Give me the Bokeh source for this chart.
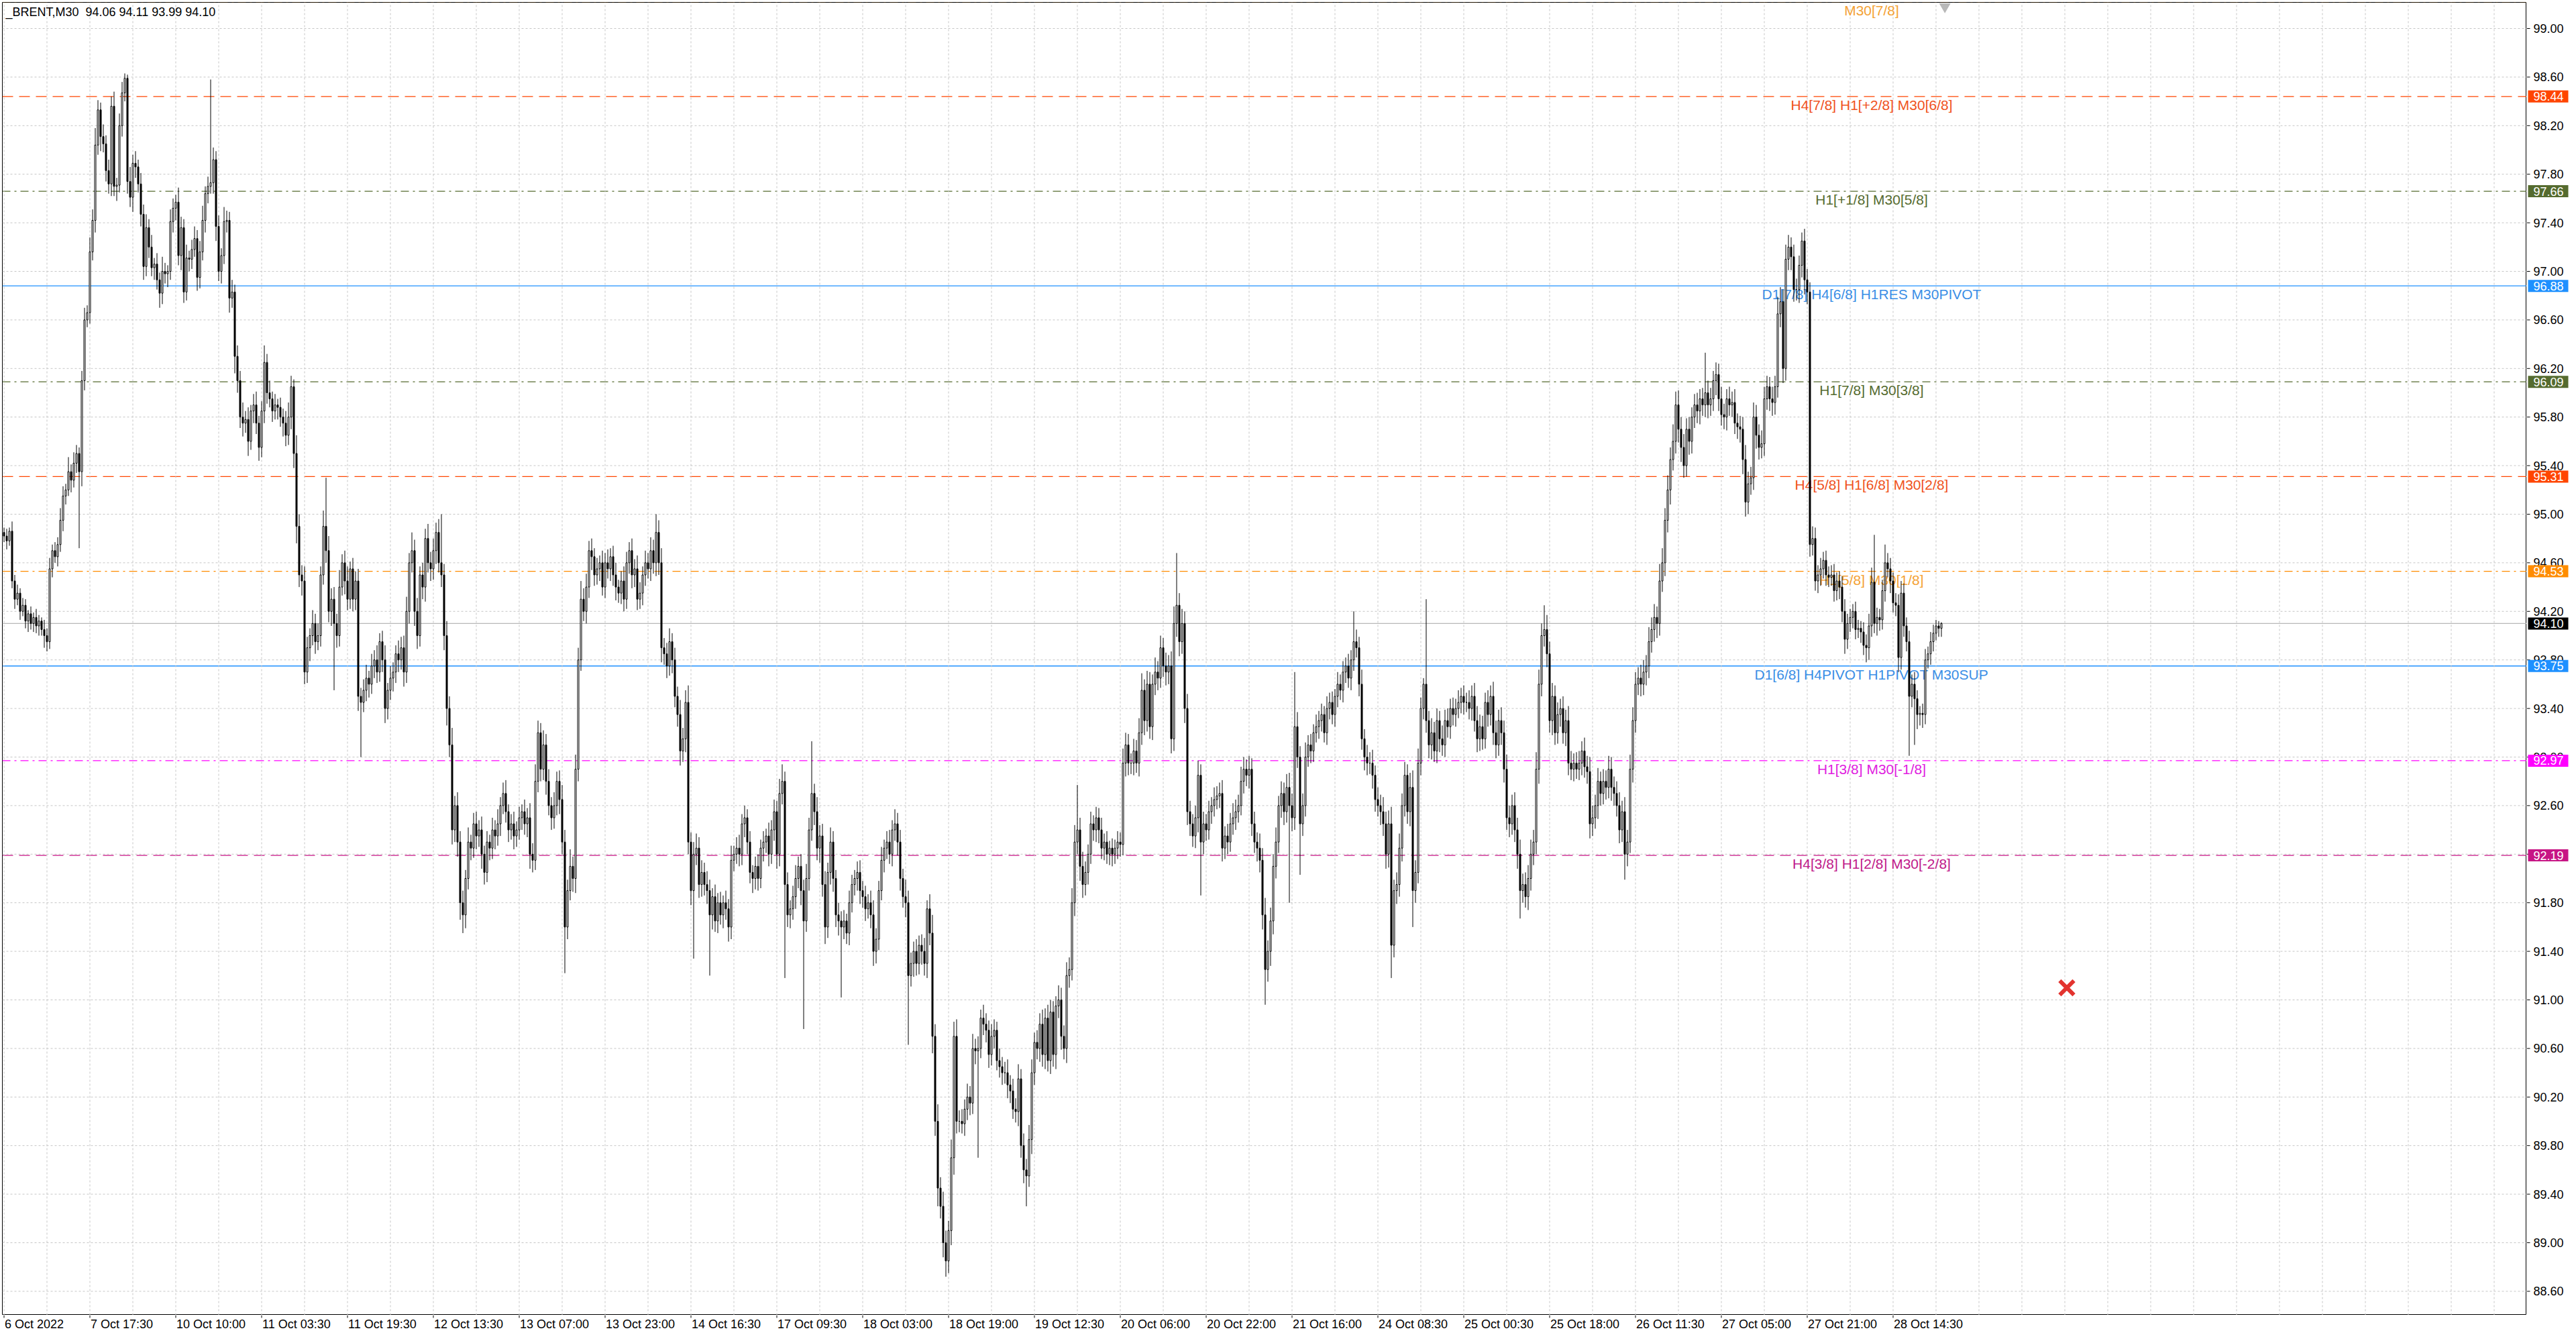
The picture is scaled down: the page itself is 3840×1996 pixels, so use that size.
from bokeh.plotting import figure
from bokeh.layouts import row, column
from bokeh.models import ColumnDataSource, Range1d, Span
from bokeh.embed import file_html
from bokeh.resources import INLINE
from bokeh.core.properties import value

# ---------------- data ----------------
chart_title = "_BRENT,M30\u00a0\u00a094.06 94.11 93.99 94.10"
first_open = 94.85

closes = [
    94.82, 94.78, 94.86, 94.45, 94.30, 94.35, 94.20, 94.25, 94.12, 94.18,  # 0
    94.10, 94.15, 94.08, 94.12, 94.05, 94.00, 93.95, 94.55, 94.70, 94.65,  # 10
    94.75, 94.95, 95.15, 95.20, 95.35, 95.28, 95.42, 95.50, 95.35, 96.10,  # 20
    96.60, 96.66, 97.16, 97.42, 98.04, 98.33, 98.11, 98.05, 97.83, 97.72,  # 30
    98.36, 97.70, 97.71, 98.20, 98.47, 98.59, 97.74, 97.61, 97.89, 97.86,  # 40
    97.72, 97.47, 97.04, 97.36, 97.20, 97.03, 97.06, 96.93, 96.82, 97.00,  # 50
    96.98, 97.00, 97.41, 97.52, 97.57, 97.13, 97.36, 96.83, 97.11, 97.10,  # 60
    97.18, 97.27, 96.95, 97.16, 97.42, 97.64, 97.70, 97.73, 97.92, 97.37,  # 70
    97.00, 97.13, 97.41, 97.42, 96.78, 96.83, 96.30, 96.10, 95.80, 95.75,  # 80
    95.78, 95.60, 95.85, 95.90, 95.75, 95.55, 95.85, 96.25, 96.00, 95.95,  # 90
    95.85, 95.90, 95.88, 95.80, 95.75, 95.65, 95.80, 96.05, 95.50, 94.90,  # 100
    94.50, 94.45, 93.70, 93.90, 94.00, 94.10, 93.95, 94.00, 94.50, 94.90,  # 110
    94.70, 94.20, 94.30, 94.10, 94.00, 94.40, 94.60, 94.45, 94.30, 94.55,  # 120
    94.30, 94.45, 93.50, 93.45, 93.55, 93.65, 93.60, 93.75, 93.80, 93.70,  # 130
    93.95, 93.80, 93.40, 93.55, 93.65, 93.70, 93.85, 93.80, 93.90, 93.70,  # 140
    94.20, 94.60, 94.70, 94.20, 94.00, 94.50, 94.40, 94.80, 94.60, 94.55,  # 150
    94.70, 94.85, 94.60, 94.50, 94.00, 93.40, 93.10, 92.40, 92.60, 92.30,  # 160
    91.80, 91.70, 92.00, 92.30, 92.25, 92.45, 92.35, 92.40, 92.20, 92.05,  # 170
    92.30, 92.25, 92.40, 92.35, 92.45, 92.60, 92.70, 92.55, 92.40, 92.45,  # 180
    92.35, 92.40, 92.50, 92.55, 92.45, 92.50, 92.20, 92.15, 92.80, 93.20,  # 190
    92.90, 93.10, 92.80, 92.60, 92.50, 92.60, 92.80, 92.65, 92.30, 91.60,  # 200
    91.90, 92.10, 92.00, 92.90, 93.80, 94.30, 94.20, 94.40, 94.70, 94.65,  # 210
    94.50, 94.55, 94.60, 94.40, 94.60, 94.55, 94.65, 94.50, 94.40, 94.35,  # 220
    94.45, 94.30, 94.60, 94.70, 94.50, 94.55, 94.30, 94.35, 94.50, 94.60,  # 230
    94.55, 94.70, 94.60, 94.85, 94.60, 93.90, 93.85, 93.75, 93.95, 93.80,  # 240
    93.50, 93.35, 93.05, 93.15, 93.45, 92.30, 91.90, 92.20, 92.25, 91.95,  # 250
    92.05, 91.95, 91.90, 91.70, 91.85, 91.65, 91.80, 91.70, 91.80, 91.75,  # 260
    91.60, 92.15, 92.20, 92.25, 92.20, 92.45, 92.50, 92.30, 92.05, 92.00,  # 270
    92.10, 92.00, 92.25, 92.30, 92.35, 92.20, 92.40, 92.55, 92.20, 92.70,  # 280
    92.80, 91.95, 91.70, 91.75, 91.85, 92.00, 92.10, 91.90, 91.65, 92.00,  # 290
    92.40, 92.70, 92.55, 92.25, 92.35, 91.95, 91.60, 92.05, 92.30, 92.00,  # 300
    91.70, 91.65, 91.60, 91.65, 91.55, 91.80, 91.95, 92.00, 92.05, 91.90,  # 310
    91.85, 91.75, 91.80, 91.70, 91.40, 91.50, 91.90, 92.15, 92.25, 92.30,  # 320
    92.20, 92.40, 92.45, 92.30, 92.00, 91.85, 91.80, 91.20, 91.30, 91.40,  # 330
    91.30, 91.45, 91.40, 91.30, 91.75, 91.55, 90.70, 90.00, 89.45, 89.30,  # 340
    89.00, 88.85, 89.10, 89.70, 90.70, 90.00, 90.00, 89.98, 90.10, 90.20,  # 350
    90.15, 90.60, 90.58, 90.60, 90.85, 90.80, 90.75, 90.55, 90.70, 90.75,  # 360
    90.50, 90.45, 90.40, 90.40, 90.30, 90.25, 90.10, 90.08, 90.35, 89.80,  # 370
    89.60, 89.55, 89.85, 90.40, 90.65, 90.60, 90.80, 90.55, 90.85, 90.50,  # 380
    90.90, 90.55, 90.95, 91.00, 90.70, 90.60, 91.20, 91.25, 91.80, 92.30,  # 390
    92.40, 92.10, 91.95, 92.05, 92.20, 92.45, 92.40, 92.50, 92.40, 92.25,  # 400
    92.30, 92.20, 92.25, 92.20, 92.25, 92.30, 92.28, 92.95, 93.10, 92.95,  # 410
    92.95, 93.05, 92.95, 93.20, 93.55, 93.30, 93.60, 93.25, 93.60, 93.70,  # 420
    93.65, 93.90, 93.75, 93.70, 93.75, 93.15, 94.10, 94.25, 93.95, 94.10,  # 430
    93.40, 92.55, 92.45, 92.35, 92.50, 92.85, 92.30, 92.45, 92.40, 92.55,  # 440
    92.60, 92.65, 92.68, 92.70, 92.25, 92.35, 92.30, 92.45, 92.50, 92.55,  # 450
    92.60, 92.80, 92.90, 92.85, 92.90, 92.45, 92.30, 92.25, 92.15, 91.70,  # 460
    91.25, 91.40, 91.65, 92.10, 92.30, 92.60, 92.70, 92.55, 92.75, 92.60,  # 470
    92.50, 93.25, 93.00, 92.45, 92.60, 93.00, 93.10, 93.05, 93.20, 93.25,  # 480
    93.30, 93.35, 93.20, 93.40, 93.45, 93.35, 93.50, 93.60, 93.55, 93.70,  # 490
    93.75, 93.65, 93.80, 93.95, 93.90, 93.60, 93.15, 93.00, 92.95, 92.95,  # 500
    92.85, 92.65, 92.60, 92.55, 92.45, 92.20, 92.45, 91.45, 91.90, 91.95,  # 510
    92.25, 92.60, 92.85, 92.55, 92.75, 91.90, 92.05, 92.95, 93.40, 93.60,  # 520
    93.30, 93.10, 93.20, 93.05, 93.30, 93.15, 93.10, 93.30, 93.25, 93.40,  # 530
    93.35, 93.40, 93.45, 93.50, 93.45, 93.45, 93.40, 93.50, 93.30, 93.15,  # 540
    93.25, 93.15, 93.45, 93.35, 93.50, 93.20, 93.10, 93.30, 93.20, 92.90,  # 550
    92.50, 92.45, 92.60, 92.40, 92.20, 91.90, 91.95, 91.85, 92.00, 92.20,  # 560
    92.30, 92.90, 93.60, 94.00, 94.05, 93.85, 93.30, 93.50, 93.20, 93.35,  # 570
    93.40, 93.20, 93.30, 92.95, 92.90, 92.95, 92.90, 92.95, 93.05, 92.92,  # 580
    92.88, 92.45, 92.50, 92.60, 92.80, 92.70, 92.80, 92.75, 92.90, 92.75,  # 590
    92.70, 92.60, 92.40, 92.55, 92.20, 92.30, 92.90, 93.30, 93.60, 93.65,  # 600
    93.60, 93.70, 93.75, 93.95, 94.05, 94.15, 94.10, 94.45, 94.60, 94.95,  # 610
    95.20, 95.45, 95.60, 95.90, 95.70, 95.55, 95.40, 95.70, 95.60, 95.80,  # 620
    95.90, 95.85, 95.95, 95.90, 96.00, 95.90, 95.95, 96.10, 96.15, 95.95,  # 630
    95.82, 95.80, 95.95, 95.90, 95.92, 95.75, 95.72, 95.70, 95.45, 95.10,  # 640
    95.25, 95.30, 95.80, 95.65, 95.55, 95.58, 95.95, 96.05, 95.95, 95.92,  # 650
    96.05, 96.65, 96.75, 96.20, 97.10, 97.20, 97.12, 96.85, 96.85, 97.05,  # 660
    97.25, 96.93, 96.83, 94.75, 94.80, 94.45, 94.50, 94.55, 94.62, 94.50,  # 670
    94.48, 94.50, 94.37, 94.45, 94.40, 94.20, 93.97, 94.10, 94.15, 94.20,  # 680
    94.05, 94.06, 94.03, 93.92, 93.90, 94.08, 94.44, 94.10, 94.15, 94.13,  # 690
    94.37, 94.60, 94.55, 94.45, 94.27, 94.25, 93.82, 94.35, 94.08, 93.95,  # 700
    93.50, 93.60, 93.48, 93.35, 93.36, 93.35, 93.80, 93.85, 93.95, 94.02,  # 710
    94.08, 94.06, 94.10,                                                    # 720
]

# wick lengths (cents) above max(open, close) and below min(open, close)
wick_up = [
    4,6,3,8,5,7,4,6,5,3,6,4,7,5,3,8,6,9,5,7,
    6,10,8,5,12,6,9,7,5,8,10,6,12,9,14,8,6,10,7,9,
    8,12,6,10,9,4,3,12,7,10,6,9,8,11,7,10,5,9,6,12,
    7,5,10,8,6,12,9,7,11,6,8,10,7,9,12,6,8,5,10,7,
    9,6,12,8,7,10,6,9,8,12,7,10,5,9,11,6,8,14,7,10,
    6,9,5,8,7,10,12,9,6,15,10,8,12,9,6,11,8,10,7,13,
    5,12,9,10,8,14,7,10,12,6,9,8,10,7,9,11,6,10,8,12,
    7,9,12,6,10,8,7,11,9,10,12,8,15,9,11,7,10,8,12,9,
    10,8,11,5,9,12,10,14,8,11,9,10,7,12,6,9,10,8,11,7,
    9,6,10,8,12,7,9,11,6,8,10,7,9,6,10,8,12,9,14,10,
    8,12,9,10,7,11,8,9,12,10,9,14,8,12,10,15,9,11,8,10,
    7,9,6,10,8,11,7,9,10,6,8,12,9,7,10,8,11,9,7,10,
    8,11,9,5,10,12,8,9,11,7,10,8,12,9,10,14,8,10,12,9,
    10,8,11,9,7,10,8,9,6,10,8,12,7,9,11,8,10,7,9,6,
    8,10,7,9,6,11,8,10,9,12,14,8,10,7,9,11,8,10,9,12,
    10,5,8,12,9,10,11,8,12,9,7,10,8,9,6,10,8,7,9,10,
    8,9,7,10,12,9,8,11,7,9,10,8,12,9,10,8,14,10,9,8,
    10,8,9,11,7,12,15,10,14,9,12,10,8,15,12,14,9,10,8,11,
    9,12,8,10,7,11,9,8,10,9,7,10,8,9,11,8,10,9,12,8,
    10,9,12,11,8,10,9,12,8,11,10,9,8,12,10,9,11,10,12,14,
    5,10,12,9,8,10,7,9,8,10,7,9,6,8,7,9,8,12,10,9,
    8,10,9,12,14,9,11,10,8,12,9,10,8,11,9,12,14,5,10,12,
    10,12,9,8,10,12,9,10,8,9,7,10,8,9,11,8,10,9,12,10,
    9,12,10,8,11,9,10,8,12,10,14,9,11,10,12,8,10,9,11,12,
    10,5,12,9,10,12,8,9,7,10,8,9,7,10,8,9,6,10,8,9,
    7,10,8,5,10,9,12,8,10,9,11,8,10,9,12,10,11,14,9,10,
    12,10,11,9,12,14,10,12,9,5,10,8,12,9,10,8,11,9,10,8,
    9,8,10,7,9,8,10,9,11,12,10,9,8,10,9,12,10,9,11,10,
    12,10,9,11,10,12,9,10,11,12,10,14,12,10,5,12,10,11,9,10,
    8,10,9,12,10,8,9,10,8,11,9,12,10,9,11,8,10,9,11,10,
    9,10,11,9,12,10,12,11,10,9,11,10,9,12,10,11,9,14,12,10,
    12,10,14,11,12,10,11,9,10,8,9,10,8,9,5,10,9,8,10,9,
    10,9,8,10,9,11,8,9,10,12,10,9,12,10,9,11,10,9,8,10,
    9,14,12,10,10,10,8,10,9,8,7,10,9,8,10,9,8,9,7,8,
    7,8,9,7,8,9,10,8,7,6,8,7,6,8,9,10,12,5,8,7,
    9,15,8,9,7,8,9,10,8,7,9,8,10,7,6,8,9,6,8,7,
    5,4,1,
]
wick_lo = [
    5,7,4,6,8,5,7,4,6,9,5,7,6,8,5,10,8,6,7,5,
    8,6,9,7,5,10,6,8,7,12,8,6,9,7,10,8,12,7,9,8,
    10,8,12,6,9,7,10,8,12,9,7,10,11,8,9,7,10,8,12,9,
    8,11,7,9,10,8,12,9,7,10,8,6,11,9,7,10,8,6,9,12,
    8,10,7,9,12,8,14,10,9,11,8,12,7,10,9,11,8,10,9,7,
    9,7,10,8,11,9,8,10,12,14,10,12,10,9,11,8,10,7,9,8,
    10,9,12,8,10,9,7,11,9,8,10,9,12,10,8,9,11,8,10,9,
    8,10,12,9,8,11,9,10,8,12,9,10,8,12,11,9,10,12,8,10,
    9,11,8,10,12,14,10,12,10,12,14,10,11,9,10,8,11,9,12,10,
    8,10,9,11,8,10,7,9,10,8,11,9,8,10,9,11,12,10,8,9,
    10,9,11,8,10,9,8,12,10,12,10,8,11,12,10,9,8,10,9,11,
    9,8,10,7,9,8,10,9,11,8,9,10,8,9,11,10,9,8,10,9,
    8,10,9,11,10,12,9,10,8,11,9,10,12,9,11,10,12,10,9,11,
    10,9,11,10,12,9,10,8,11,9,12,10,9,8,10,9,11,10,9,12,
    9,10,8,11,9,10,8,9,12,10,9,12,10,11,9,10,8,12,10,9,
    10,9,11,10,12,10,14,9,10,11,10,12,11,10,9,10,8,9,10,11,
    9,10,8,11,12,10,9,8,10,9,8,10,9,11,10,9,12,10,9,11,
    10,9,11,10,12,10,14,12,15,10,12,9,10,12,14,10,9,8,10,9,
    10,9,11,10,8,9,10,11,9,10,8,9,10,9,11,10,8,9,12,10,
    11,10,9,12,10,9,11,10,12,9,11,10,12,10,11,9,12,10,9,11,
    10,12,11,9,10,8,9,10,11,9,10,8,9,10,8,9,10,9,11,10,
    9,10,8,11,10,12,9,10,11,9,10,8,9,11,10,12,10,11,12,10,
    12,11,10,9,10,12,9,10,9,8,10,9,8,10,11,9,10,8,9,10,
    9,8,10,9,11,10,9,11,10,12,14,10,12,11,10,9,10,11,9,12,
    11,10,9,12,10,9,8,10,9,8,10,9,8,10,9,8,10,9,8,10,
    9,8,10,9,8,10,9,11,10,9,11,10,9,11,10,12,11,12,10,11,
    10,11,9,10,12,11,10,9,10,9,10,11,12,9,10,11,9,10,9,10,
    9,10,8,9,10,8,9,10,9,11,10,9,8,10,9,10,11,9,10,11,
    10,11,9,10,12,11,10,9,11,10,9,10,12,10,9,11,10,12,10,9,
    10,9,11,10,9,10,8,9,10,9,10,12,10,9,11,10,9,10,9,11,
    10,9,11,10,12,10,9,11,10,9,10,9,11,10,9,10,12,10,9,11,
    10,12,9,10,11,12,10,9,11,10,9,10,11,9,10,11,9,10,12,10,
    9,10,11,9,10,9,10,11,12,12,10,9,10,11,10,9,10,9,10,11,
    10,9,11,12,10,9,11,10,9,11,10,12,10,10,9,8,10,9,8,9,
    8,7,9,8,10,9,12,8,7,9,8,7,9,8,12,10,9,8,10,9,
    8,9,7,10,8,9,12,10,9,8,10,9,10,12,9,11,8,7,9,8,
    6,7,7,
]

# long shadows
spike_hi_idx = [45, 46, 77, 120, 163, 243, 301, 400, 437, 481, 503, 530, 574, 634, 664, 665, 697, 701]
spike_hi_val = [98.63, 98.62, 98.58, 95.30, 95.00, 95.00, 93.13, 92.77, 94.68, 93.70, 94.20, 94.30,
                94.25, 96.33, 97.22, 97.30, 94.83, 94.75]
spike_lo_idx = [28, 123, 133, 171, 209, 257, 263, 291, 298, 312, 337, 351, 363, 381, 446, 470, 479,
                483, 517, 525, 565, 604, 649, 710, 712]
spike_lo_val = [94.72, 93.55, 93.00, 91.55, 91.22, 91.34, 91.20, 91.18, 90.76, 91.02, 90.63, 88.72,
                89.70, 89.30, 91.86, 90.96, 91.80, 92.03, 91.18, 91.60, 91.67, 91.99, 94.98, 93.01, 93.10]

x_tick_bars = [0, 32, 64, 96, 128, 160, 192, 224, 256, 288, 320, 352, 384, 416, 448, 480,
               512, 544, 576, 608, 640, 672, 704]
x_tick_labels = ["6 Oct 2022", "7 Oct 17:30", "10 Oct 10:00", "11 Oct 03:30", "11 Oct 19:30",
                 "12 Oct 13:30", "13 Oct 07:00", "13 Oct 23:00", "14 Oct 16:30", "17 Oct 09:30",
                 "18 Oct 03:00", "18 Oct 19:00", "19 Oct 12:30", "20 Oct 06:00", "20 Oct 22:00",
                 "21 Oct 16:00", "24 Oct 08:30", "25 Oct 00:30", "25 Oct 18:00", "26 Oct 11:30",
                 "27 Oct 05:00", "27 Oct 21:00", "28 Oct 14:30"]
price_ticks = [88.6, 89.0, 89.4, 89.8, 90.2, 90.6, 91.0, 91.4, 91.8, 92.2, 92.6, 93.0, 93.4,
               93.8, 94.2, 94.6, 95.0, 95.4, 95.8, 96.2, 96.6, 97.0, 97.4, 97.8, 98.2, 98.6, 99.0]

levels = [99.22, 98.44, 97.66, 96.88, 96.09, 95.31, 94.53, 93.75, 92.97, 92.19]
level_labels = ["M30[7/8]", "H4[7/8] H1[+2/8] M30[6/8]", "H1[+1/8] M30[5/8]",
                "D1[7/8] H4[6/8] H1RES M30PIVOT", "H1[7/8] M30[3/8]", "H4[5/8] H1[6/8] M30[2/8]",
                "H1[5/8] M30[1/8]", "D1[6/8] H4PIVOT H1PIVOT M30SUP", "H1[3/8] M30[-1/8]",
                "H4[3/8] H1[2/8] M30[-2/8]"]
level_colors = ["#F4A235", "#F0521C", "#556B2F", "#3A8EE6", "#556B2F", "#F0521C",
                "#F4A235", "#3A8EE6", "#E020E0", "#C0198A"]
level_line_colors = ["#FF8C00", "#FF4500", "#556B2F", "#1E90FF", "#556B2F", "#FF4500",
                     "#FF8C00", "#1E90FF", "#FF00FF", "#C71585"]
level_dashes = ["12 6 3 6", "16 9", "12 6 3 6", "solid", "12 6 3 6", "16 9",
                "12 6 3 6", "solid", "12 6 3 6", "16 9"]

tag_prices = [98.44, 97.66, 96.88, 96.09, 95.31, 94.53, 94.10, 93.75, 92.97, 92.19]
tag_colors = ["#FF4500", "#556B2F", "#1E90FF", "#556B2F", "#FF4500", "#FF8C00", "#000000",
              "#1E90FF", "#FF00FF", "#C71585"]
current_price = 94.10

cross_bar = [768.75]
cross_price = [91.10]
shift_marker_bar = [723.3]
shift_marker_price = [99.18]

# ---------------- derived OHLC ----------------
n = len(closes)
assert len(wick_up) == n and len(wick_lo) == n, (n, len(wick_up), len(wick_lo))
opens = [first_open] + closes[:-1]
highs = [max(o, c) + u / 100.0 for o, c, u in zip(opens, closes, wick_up)]
lows = [min(o, c) - d / 100.0 for o, c, d in zip(opens, closes, wick_lo)]
for i, v in zip(spike_hi_idx, spike_hi_val):
    highs[i] = max(highs[i], v)
for i, v in zip(spike_lo_idx, spike_lo_val):
    lows[i] = min(lows[i], v)

src = ColumnDataSource(dict(
    x=list(range(n)),
    top=[max(o, c) for o, c in zip(opens, closes)],
    bottom=[min(o, c) for o, c in zip(opens, closes)],
    high=highs, low=lows,
    fill=["white" if c > o else "black" for o, c in zip(opens, closes)],
))

# ---------------- geometry ----------------
MAIN_W, MAIN_H = 3766, 1960
LEFT, TOP = 3, 3
FW, FH = MAIN_W - LEFT, MAIN_H - TOP
PX_PER_BAR = 4.0
PX_PER_PRICE = 181.0
x0 = -0.625          # puts candle centres on half pixels -> crisp 1px wicks
x1 = x0 + FW / PX_PER_BAR
y1 = 99.0 + (42.0 - TOP) / PX_PER_PRICE
y0 = y1 - FH / PX_PER_PRICE
AXIS_W = 70
BOTTOM_H = 32

FONT = "Liberation Sans"


def base_fig(**kw):
    f = figure(output_backend="svg", toolbar_location=None, x_axis_location=None,
               y_axis_location=None, background_fill_color="white", border_fill_color="white",
               **kw)
    f.xgrid.visible = False
    f.ygrid.visible = False
    return f


# ---------------- main chart ----------------
p = base_fig(width=MAIN_W, height=MAIN_H, x_range=Range1d(x0, x1), y_range=Range1d(y0, y1),
             min_border_left=LEFT, min_border_top=TOP, min_border_right=0, min_border_bottom=0,
             outline_line_color="black", outline_line_width=1)

grid_bars = list(range(0, int(x1) + 1, 16))
p.segment(x0=grid_bars, x1=grid_bars, y0=[y0] * len(grid_bars), y1=[y1] * len(grid_bars),
          line_color="#C6C6C6", line_dash="3 3", line_width=1)
p.segment(x0=[x0] * len(price_ticks), x1=[x1] * len(price_ticks), y0=price_ticks, y1=price_ticks,
          line_color="#C6C6C6", line_dash="3 3", line_width=1)

for lv, col, dash in zip(levels, level_line_colors, level_dashes):
    p.add_layout(Span(location=lv, dimension="width", line_color=col, line_width=1.3,
                      line_dash=dash, level="underlay"))
p.add_layout(Span(location=current_price, dimension="width", line_color="#B8B8B8",
                  line_width=1.2, level="underlay"))

LABEL_BAR = 696
lsrc = ColumnDataSource(dict(x=[LABEL_BAR] * len(levels), y=levels, text=level_labels,
                             color=level_colors))
p.text(x="x", y="y", text="text", source=lsrc, text_color="color", text_align="center",
       text_baseline="top", y_offset=1, text_font=value(FONT), text_font_size="21px")

p.segment(x0="x", y0="low", x1="x", y1="high", source=src, line_color="black", line_width=1)
p.vbar(x="x", width=0.5, top="top", bottom="bottom", source=src, fill_color="fill",
       line_color="black", line_width=1)

p.text(x=[x0], y=[y1], text=[chart_title], x_offset=5, y_offset=4, text_align="left",
       text_baseline="top", text_color="black", text_font=value(FONT), text_font_size="18px")

p.scatter(x=cross_bar, y=cross_price, marker="x", size=30, line_color="#E3342F", line_width=6)
p.scatter(x=shift_marker_bar, y=shift_marker_price, marker="inverted_triangle", size=17,
          fill_color="#B8B8B8", line_color=None)

# ---------------- price scale (right) ----------------
r = base_fig(width=AXIS_W, height=MAIN_H, x_range=Range1d(0, AXIS_W), y_range=p.y_range,
             min_border_left=0, min_border_top=TOP, min_border_right=0, min_border_bottom=0,
             outline_line_color=None)
nt = len(price_ticks)
r.segment(x0=[0] * nt, x1=[5] * nt, y0=price_ticks, y1=price_ticks, line_color="black",
          line_width=1)
r.text(x=[10] * nt, y=price_ticks, text=[f"{v:.2f}" for v in price_ticks], text_align="left",
       text_baseline="middle", text_color="black", text_font=value(FONT), text_font_size="18px")
ntag = len(tag_prices)
r.rect(x=[32] * ntag, y=tag_prices, width=60, height=18, height_units="screen",
       fill_color=tag_colors, line_color=None)
r.text(x=[10] * ntag, y=tag_prices, text=[f"{v:.2f}" for v in tag_prices], text_align="left",
       text_baseline="middle", text_color="white", text_font=value(FONT), text_font_size="18px")

# ---------------- time scale (bottom) ----------------
b = base_fig(width=MAIN_W, height=BOTTOM_H, x_range=p.x_range, y_range=Range1d(-BOTTOM_H, 0),
             min_border_left=LEFT, min_border_top=0, min_border_right=0, min_border_bottom=0,
             outline_line_color=None)
nx = len(x_tick_bars)
b.segment(x0=x_tick_bars, x1=x_tick_bars, y0=[0] * nx, y1=[-4] * nx, line_color="black",
          line_width=1)
b.text(x=x_tick_bars, y=[-3] * nx, text=x_tick_labels, x_offset=1, text_align="left",
       text_baseline="top", text_color="black", text_font=value(FONT), text_font_size="18px")

layout = column(row(p, r), b)
open("out.html", "w").write(file_html(layout, INLINE))
